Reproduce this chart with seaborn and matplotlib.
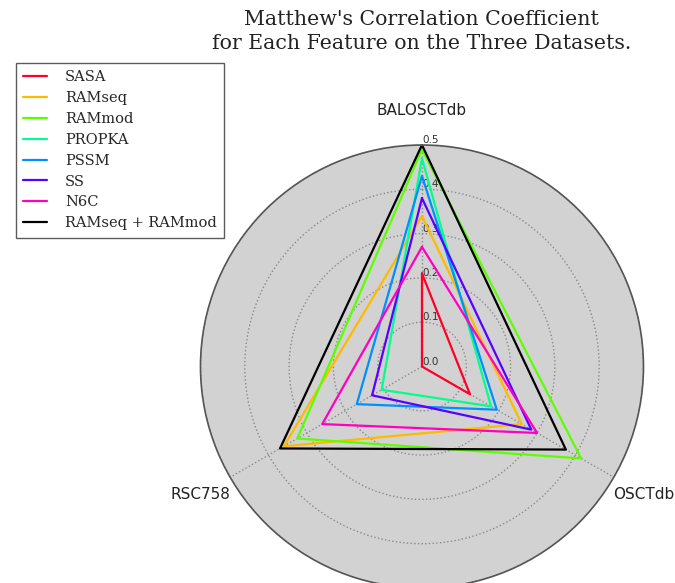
import numpy as np
import pandas as pd
import matplotlib
matplotlib.use("Agg")
import matplotlib.pyplot as plt
import seaborn as sns

# Datasets (radar axes) and MCC per feature, in dataset order
datasets = ["BALOSCTdb", "OSCTdb", "RSC758"]
features = ["SASA", "RAMseq", "RAMmod", "PROPKA", "PSSM", "SS", "N6C",
            "RAMseq + RAMmod"]

sasa = [0.21, 0.125, 0.0]
ramseq = [0.34, 0.26, 0.36]
rammod = [0.49, 0.415, 0.325]
propka = [0.47, 0.18, 0.105]
pssm = [0.43, 0.195, 0.17]
ss = [0.38, 0.285, 0.13]
n6c = [0.27, 0.30, 0.26]
combined = [0.50, 0.375, 0.37]

r_ticks = [0.0, 0.1, 0.2, 0.3, 0.4, 0.5]
title = "Matthew's Correlation Coefficient\nfor Each Feature on the Three Datasets."

series = [sasa, ramseq, rammod, propka, pssm, ss, n6c, combined]

# Build a long table with each polygon closed back to its first vertex
angles = np.linspace(0, 2 * np.pi, len(datasets), endpoint=False)
rows = []
for name, vals in zip(features, series):
    for k in range(len(datasets) + 1):
        i = k % len(datasets)
        theta = angles[i] if k < len(datasets) else 2 * np.pi
        rows.append({"feature": name, "theta": theta, "mcc": vals[i], "order": k})
df = pd.DataFrame(rows)

sns.set_style("white")
plt.rcParams["font.family"] = ["DejaVu Sans"]

rainbow = plt.get_cmap("gist_rainbow")(np.linspace(0, 1, 7))
palette = {f: rainbow[i] for i, f in enumerate(features[:-1])}
palette[features[-1]] = "black"

fig = plt.figure(figsize=(6.75, 5.83), dpi=100)
ax = fig.add_axes([0.297, -0.0086, 0.6563, 0.7599], polar=True)
ax.set_theta_offset(np.pi / 2)
ax.set_theta_direction(-1)
ax.set_facecolor("#d2d2d2")

sns.lineplot(data=df, x="theta", y="mcc", hue="feature", palette=palette,
             hue_order=features, sort=False, estimator=None, units="feature",
             lw=1.6, ax=ax, legend=True)

ax.set_ylim(0, 0.5)
ax.set_rgrids(r_ticks, labels=[f"{t:.1f}" for t in r_ticks], angle=0,
              fontsize=7.5, color="#333333")
for lab in ax.get_yticklabels():
    lab.set_horizontalalignment("left")
    lab.set_verticalalignment("bottom")
ax.set_xticks(angles)
ax.set_xticklabels(datasets, fontsize=11, color="#222222")
ax.tick_params(axis="x", pad=14)
ax.set_xlabel("")
ax.set_ylabel("")
ax.grid(True, color="#8a8a8a", linestyle=":", linewidth=1.0)
ax.spines["polar"].set_color("#555555")
ax.spines["polar"].set_linewidth(1.2)

handles, labels = ax.get_legend_handles_labels()
ax.get_legend().remove()
leg = fig.legend(handles, labels, loc="upper left",
                 bbox_to_anchor=(0.0237, 1 - 63 / 583), borderaxespad=0,
                 frameon=True, fancybox=False,
                 prop={"family": "DejaVu Serif", "size": 10.5},
                 handlelength=1.6, handletextpad=1.25,
                 labelspacing=0.47, borderpad=0.5)
leg.get_frame().set_edgecolor("#333333")
leg.get_frame().set_linewidth(1.0)

fig.text(0.625, 1 - 10 / 583, title, ha="center", va="top",
         fontsize=14.75, family="DejaVu Serif", color="#222222",
         linespacing=1.35)

fig.savefig("out.png", dpi=100)
